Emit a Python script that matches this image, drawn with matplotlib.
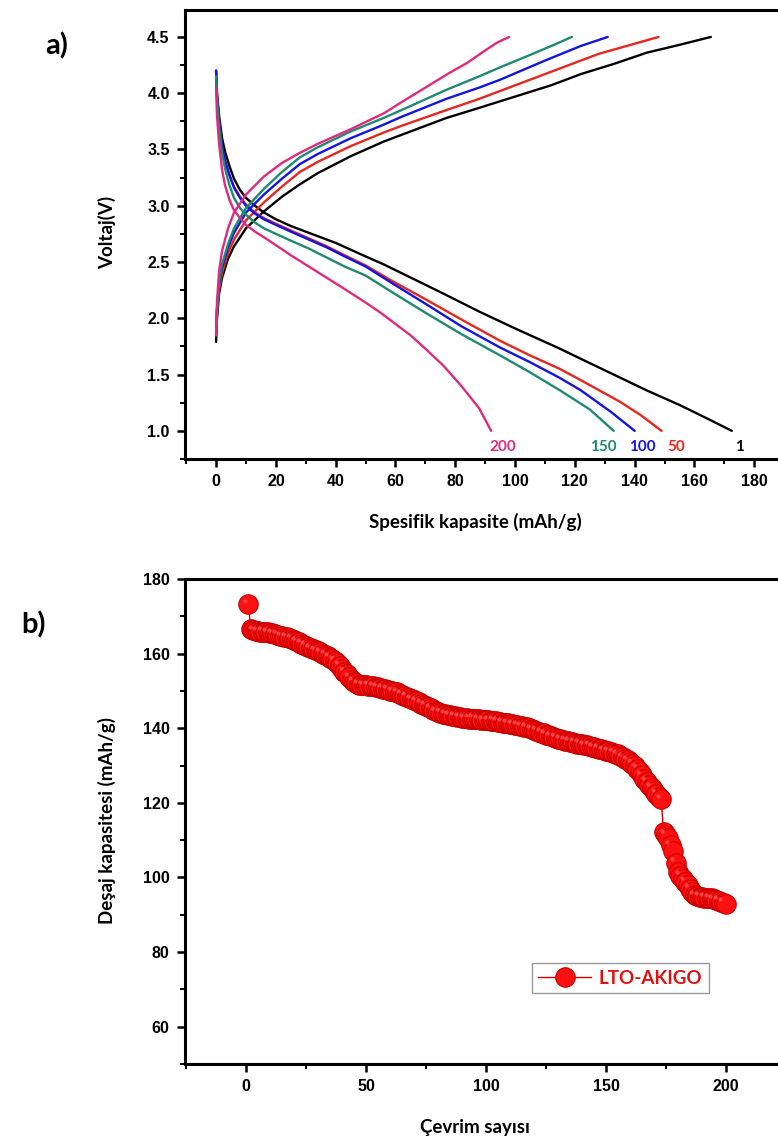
import matplotlib
matplotlib.use('Agg')
import numpy as np
import matplotlib.pyplot as plt
from matplotlib.ticker import MultipleLocator
import matplotlib.transforms as mtransforms

# ---- panel a: charge / discharge curves (mAh/g, V) ----
c1_chg_x = [0, 0.3, 1, 2, 4, 6, 10, 16, 22, 28, 34, 45, 56, 66, 77, 88, 100, 112, 122, 133, 144, 155, 165.5]
c1_chg_v = [1.79, 2.0, 2.22, 2.36, 2.53, 2.64, 2.8, 2.95, 3.08, 3.19, 3.29, 3.44, 3.57, 3.67, 3.78, 3.87, 3.97, 4.07, 4.17, 4.26, 4.36, 4.43, 4.5]
c50_chg_x = [0, 0.3, 1, 2, 4, 6, 10, 16, 22, 28, 34, 45, 56, 62, 77, 88, 95, 110, 128, 140, 148]
c50_chg_v = [1.85, 2.05, 2.25, 2.4, 2.58, 2.7, 2.87, 3.03, 3.17, 3.3, 3.39, 3.53, 3.65, 3.71, 3.85, 3.95, 4.02, 4.17, 4.35, 4.44, 4.5]
c100_chg_x = [0, 0.3, 1, 2, 4, 6, 10, 16, 22, 28, 34, 45, 56, 62, 77, 88, 95, 110, 122, 131]
c100_chg_v = [1.87, 2.08, 2.3, 2.45, 2.63, 2.76, 2.94, 3.1, 3.24, 3.37, 3.46, 3.6, 3.72, 3.79, 3.95, 4.05, 4.12, 4.29, 4.42, 4.5]
c150_chg_x = [0, 0.3, 1, 2, 4, 6, 10, 16, 22, 28, 34, 45, 56, 62, 77, 88, 95, 105, 113, 119]
c150_chg_v = [1.85, 2.08, 2.32, 2.48, 2.66, 2.8, 2.98, 3.15, 3.3, 3.43, 3.52, 3.66, 3.78, 3.85, 4.03, 4.15, 4.23, 4.34, 4.43, 4.5]
c200_chg_x = [0, 0.3, 1, 2, 4, 6, 10, 16, 22, 28, 34, 45, 56, 62, 70, 78, 84, 90, 94, 98]
c200_chg_v = [1.85, 2.15, 2.42, 2.6, 2.8, 2.94, 3.1, 3.26, 3.38, 3.47, 3.55, 3.68, 3.82, 3.92, 4.05, 4.18, 4.27, 4.38, 4.45, 4.5]

c1_dis_x = [0, 0.3, 1, 2, 3, 4.5, 6, 8, 10, 13, 16, 20, 25, 30, 35, 40, 45, 50, 56, 66, 76, 88, 100, 115, 122, 133, 144, 155, 165, 172.5]
c1_dis_v = [4.2, 4.0, 3.8, 3.6, 3.48, 3.35, 3.24, 3.14, 3.07, 3.0, 2.94, 2.88, 2.82, 2.77, 2.72, 2.67, 2.61, 2.55, 2.48, 2.35, 2.22, 2.06, 1.91, 1.73, 1.64, 1.5, 1.36, 1.23, 1.1, 1.0]
c50_dis_x = [0, 0.3, 1, 2, 3, 4.5, 6, 8, 10, 13, 16, 20, 25, 31, 37, 43, 50, 59, 70, 82, 95, 105, 115, 122, 135, 142, 149]
c50_dis_v = [4.2, 3.98, 3.75, 3.52, 3.4, 3.27, 3.17, 3.08, 3.01, 2.94, 2.89, 2.84, 2.78, 2.71, 2.64, 2.56, 2.47, 2.33, 2.17, 1.99, 1.8, 1.67, 1.55, 1.45, 1.26, 1.14, 1.0]
c100_dis_x = [0, 0.3, 1, 2, 3, 4.5, 6, 8, 10, 13, 16, 20, 25, 31, 37, 43, 50, 59, 70, 82, 95, 105, 115, 122, 132, 140]
c100_dis_v = [4.2, 3.98, 3.75, 3.52, 3.4, 3.27, 3.16, 3.07, 3.0, 2.93, 2.88, 2.83, 2.77, 2.70, 2.63, 2.55, 2.46, 2.31, 2.13, 1.93, 1.74, 1.61, 1.47, 1.36, 1.17, 1.0]
c150_dis_x = [0, 0.3, 1, 2, 3, 4.5, 6, 8, 10, 13, 16, 20, 25, 31, 37, 43, 50, 59, 70, 82, 95, 105, 115, 125, 133]
c150_dis_v = [4.15, 3.95, 3.7, 3.47, 3.33, 3.18, 3.07, 2.98, 2.92, 2.85, 2.8, 2.75, 2.69, 2.62, 2.54, 2.46, 2.38, 2.23, 2.05, 1.86, 1.67, 1.52, 1.36, 1.19, 1.0]
c200_dis_x = [0, 0.3, 1, 2, 3, 4.5, 6, 8, 10, 13, 16, 20, 25, 31, 37, 43, 50, 55, 60, 65, 70, 76, 82, 88, 92]
c200_dis_v = [4.05, 3.8, 3.55, 3.32, 3.18, 3.05, 2.96, 2.89, 2.83, 2.77, 2.72, 2.65, 2.56, 2.46, 2.36, 2.26, 2.14, 2.05, 1.95, 1.85, 1.73, 1.58, 1.4, 1.2, 1.0]

cycle_names = ['1', '50', '100', '150', '200']
cycle_colors = ['#000000', '#e8261e', '#1414e0', '#1e8a70', '#e02a7e']
name_x = [175, 153.8, 142.5, 129.4, 96]

# ---- panel b: discharge capacity vs cycle ----
cycles = np.arange(1, 201)
capacity = [
    173.3,
    166.5, 166.3, 166.1, 166.0, 165.9, 165.8, 165.7, 165.7, 165.6, 165.4, 165.2,
    165.0, 164.8, 164.7, 164.5, 164.4, 164.2, 164.0,
    163.6, 163.3, 163.0, 162.7, 162.4, 162.1, 161.8,
    161.5, 161.2, 160.9, 160.6, 160.3, 160.0, 159.7,
    159.3, 158.9, 158.5, 158.1, 157.6,
    156.8, 156.0, 155.2, 154.4,
    153.7, 153.0, 152.4, 152.0, 151.7,
    151.6, 151.5, 151.5, 151.4, 151.3, 151.2, 151.1, 151.0,
    150.8, 150.6, 150.4, 150.3, 150.1, 149.9, 149.8, 149.6,
    149.3, 149.0, 148.7, 148.4, 148.1, 147.8, 147.5, 147.2, 146.9,
    146.6, 146.3, 146.0, 145.6, 145.3, 145.0, 144.6, 144.3,
    144.1, 143.9, 143.8, 143.6, 143.5, 143.3, 143.2, 143.0,
    142.9, 142.8, 142.7, 142.7, 142.6, 142.5, 142.5, 142.4, 142.4, 142.3, 142.2, 142.2, 142.1, 142.0, 142.0,
    141.9, 141.7, 141.6, 141.5, 141.4, 141.3, 141.2, 141.0, 140.9, 140.8, 140.6, 140.5, 140.4, 140.2,
    140.0, 139.8, 139.5, 139.3, 139.0, 138.8, 138.6, 138.3, 138.1, 137.9, 137.7, 137.5, 137.2, 137.0,
    136.8, 136.7, 136.5, 136.4, 136.2, 136.1, 135.9, 135.8, 135.7, 135.5, 135.4, 135.3, 135.1, 134.9,
    134.7, 134.5, 134.3, 134.1, 133.9, 133.8, 133.6, 133.4, 133.2, 133.0,
    132.6, 132.2, 131.8, 131.4, 131.0, 130.5, 130.0,
    129.2, 128.3, 127.4, 126.5, 125.6,
    124.8, 124.0, 123.2, 122.4, 121.6, 121.0,
    112.3, 111.5, 110.5, 108.6,
    107.0, 104.0, 101.6,
    100.5, 99.7, 98.9, 98.0, 97.0, 96.0, 95.2,
    95.0, 94.8, 94.7, 94.6, 94.5, 94.4, 94.4,
    94.2, 94.0, 93.8, 93.5, 93.2, 93.0,
]

TICK_FONT = 'Liberation Sans'
LABEL_FONT = 'Lato'


def style_axes(ax):
    for side in ['left', 'bottom', 'top', 'right']:
        ax.spines[side].set_linewidth(2.2)
    ax.tick_params(which='major', direction='out', length=6, width=1.8, pad=5,
                   top=False, right=False, labelsize=11.5)
    ax.tick_params(which='minor', direction='out', length=3.5, width=1.4,
                   top=False, right=False)
    for lab in ax.get_xticklabels() + ax.get_yticklabels():
        lab.set_fontfamily(TICK_FONT)
        lab.set_fontweight('bold')


fig = plt.figure(figsize=(7.78, 11.44), dpi=100)

# panel a
ax1 = fig.add_axes([0.2378, 0.5988, 0.7712, 0.3925])
charge = [(c1_chg_x, c1_chg_v), (c50_chg_x, c50_chg_v), (c100_chg_x, c100_chg_v),
          (c150_chg_x, c150_chg_v), (c200_chg_x, c200_chg_v)]
discharge = [(c1_dis_x, c1_dis_v), (c50_dis_x, c50_dis_v), (c100_dis_x, c100_dis_v),
             (c150_dis_x, c150_dis_v), (c200_dis_x, c200_dis_v)]
for i in range(len(cycle_names)):
    ax1.plot(charge[i][0], charge[i][1], color=cycle_colors[i], lw=1.7,
             solid_capstyle='round', solid_joinstyle='round')
    ax1.plot(discharge[i][0], discharge[i][1], color=cycle_colors[i], lw=1.7,
             solid_capstyle='round', solid_joinstyle='round')
    ax1.text(name_x[i], 0.86, cycle_names[i], color=cycle_colors[i], ha='center', va='center',
             fontsize=11, fontweight='bold', family=LABEL_FONT)
ax1.set_xlim(-10.4, 190.3)
ax1.set_ylim(0.75, 4.74)
ax1.xaxis.set_major_locator(MultipleLocator(20))
ax1.xaxis.set_minor_locator(MultipleLocator(10))
ax1.yaxis.set_major_locator(MultipleLocator(0.5))
ax1.yaxis.set_minor_locator(MultipleLocator(0.25))
ax1.set_yticks([1.0, 1.5, 2.0, 2.5, 3.0, 3.5, 4.0, 4.5])
ax1.yaxis.set_major_formatter(plt.FormatStrFormatter('%.1f'))
ax1.set_xticks(range(0, 181, 20))
style_axes(ax1)

# panel b
ax2 = fig.add_axes([0.2378, 0.0699, 0.7712, 0.424])
ax2.plot(cycles, capacity, '-o', color='#d40000', lw=1.0, ms=14,
         mfc='#ff1010', mec='#c80000', mew=0.8, label='LTO-AKIGO', zorder=3)
hl = mtransforms.offset_copy(ax2.transData, fig=fig, x=-2.5, y=2.5, units='points')
ax2.plot(cycles[::2], capacity[::2], 'o', ms=3, mfc='#ff8a8a', mec='none', alpha=0.45,
         transform=hl, zorder=4)
ax2.set_xlim(-25.4, 224.6)
ax2.set_ylim(50, 180)
ax2.xaxis.set_major_locator(MultipleLocator(50))
ax2.xaxis.set_minor_locator(MultipleLocator(25))
ax2.yaxis.set_major_locator(MultipleLocator(20))
ax2.yaxis.set_minor_locator(MultipleLocator(10))
ax2.set_xticks([0, 50, 100, 150, 200])
ax2.set_yticks([60, 80, 100, 120, 140, 160, 180])
style_axes(ax2)
leg = ax2.legend(loc='lower left', bbox_to_anchor=(0.578, 0.146), frameon=True, fancybox=False,
                 edgecolor='#808080', handlelength=2.8, borderpad=0.35, handletextpad=0.4,
                 borderaxespad=0, prop={'family': LABEL_FONT, 'weight': 'bold', 'size': 13.5})
leg.get_frame().set_linewidth(1.0)
for t in leg.get_texts():
    t.set_color('#e01010')

# axis labels and panel letters
fig.text(0.6105, 0.5437, 'Spesifik kapasite (mAh/g)', ha='center', va='center',
         fontsize=13.5, fontweight='bold', family=LABEL_FONT)
fig.text(0.1375, 0.797, 'Voltaj(V)', ha='center', va='center', rotation=90,
         fontsize=13.5, fontweight='bold', family=LABEL_FONT)
fig.text(0.1375, 0.2832, 'Deşaj kapasitesi (mAh/g)', ha='center', va='center', rotation=90,
         fontsize=13.5, fontweight='bold', family=LABEL_FONT)
fig.text(0.6105, 0.0140, 'Çevrim sayısı', ha='center', va='center',
         fontsize=13.5, fontweight='bold', family=LABEL_FONT)
fig.text(0.0733, 0.9598, 'a)', ha='center', va='center', fontsize=21, fontweight='bold', family=LABEL_FONT)
fig.text(0.0437, 0.4537, 'b)', ha='center', va='center', fontsize=21, fontweight='bold', family=LABEL_FONT)

fig.savefig('out.png', dpi=100)
